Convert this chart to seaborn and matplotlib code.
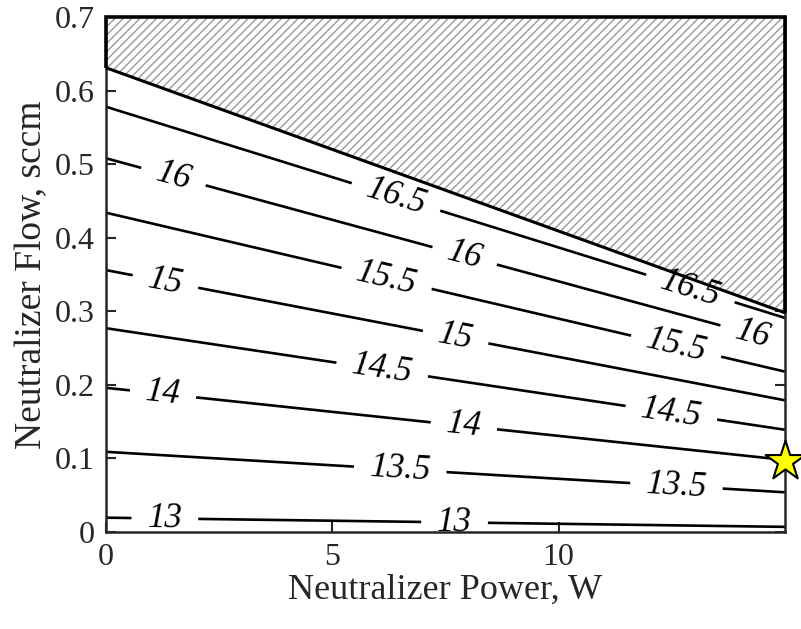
import numpy as np
import pandas as pd
import matplotlib
matplotlib.use('Agg')
import matplotlib.pyplot as plt
from matplotlib.patches import Polygon
import seaborn as sns

# Contour levels and where each one crosses the left (0 W) and right (15 W) edge
levels = [13, 13.5, 14, 14.5, 15, 15.5, 16, 16.5]
flow_at_0W = [0.0195, 0.109, 0.196, 0.277, 0.356, 0.434, 0.508, 0.578]
flow_at_15W = [0.007, 0.054, 0.098, 0.139, 0.179, 0.218, 0.257, 0.291]

# Limit line above which the region is hatched
limit_power = [0, 15]
limit_flow = [0.631, 0.298]

# Operating point marked by the star
star_power = [15]
star_flow = [0.097]

x_max, y_max = 15, 0.7

sns.set_style('ticks')
plt.rcParams['font.family'] = ['Liberation Serif', 'DejaVu Serif']
plt.rcParams['hatch.linewidth'] = 1.0
grey = '#262626'

# Build the field the contour routine needs from the edge crossings
power = np.linspace(0, x_max, 301)
flow = np.linspace(0, y_max, 351)
lv = np.array(levels, dtype=float)
y0 = np.array(flow_at_0W)
y1 = np.array(flow_at_15W)
Z = np.zeros((len(flow), len(power)))
for i, p in enumerate(power):
    yk = y0 + (y1 - y0) * p / x_max
    yk_ext = np.concatenate([[2 * yk[0] - yk[1]], yk, [2 * yk[-1] - yk[-2]]])
    lv_ext = np.concatenate([[2 * lv[0] - lv[1]], lv, [2 * lv[-1] - lv[-2]]])
    Z[:, i] = np.interp(flow, yk_ext, lv_ext)

fig = plt.figure(figsize=(8.01, 6.29), dpi=100)
ax = fig.add_axes([0.1323, 0.1542, 0.8477, 0.8188])

cs = ax.contour(power, flow, Z, levels=levels, colors='black', linewidths=1.9)
label_spots = [(1.5, 0.485), (6.4, 0.454), (7.9, 0.37), (12.9, 0.329), (14.25, 0.261),
               (1.3, 0.336), (6.2, 0.345), (7.7, 0.257), (12.6, 0.254),
               (6.1, 0.22), (12.5, 0.166),
               (1.25, 0.182), (7.9, 0.141),
               (6.5, 0.084), (12.6, 0.061),
               (1.3, 0.018), (7.7, 0.0136)]
labels = ax.clabel(cs, manual=label_spots, fmt=lambda v: f'{v:g}', inline=True,
                   inline_spacing=16, fontsize=25)
for t in labels:
    t.set_fontstyle('italic')
    t.set_color('black')

# Hatched infeasible region
ax.fill_between(limit_power, limit_flow, y_max, facecolor='white', edgecolor='#9a9a9a',
                hatch='////', linewidth=0, zorder=3)
outline = np.array([[limit_power[0], limit_flow[0]], [limit_power[0], y_max],
                    [limit_power[1], y_max], [limit_power[1], limit_flow[1]]])
ax.add_patch(Polygon(outline, closed=False, fill=False, edgecolor='black',
                     linewidth=2.6, zorder=4, clip_on=False))
limit_df = pd.DataFrame({'power': limit_power, 'flow': limit_flow})
sns.lineplot(data=limit_df, x='power', y='flow', color='black', linewidth=2.2,
             ax=ax, zorder=4)

star_df = pd.DataFrame({'power': star_power, 'flow': star_flow})
sns.scatterplot(data=star_df, x='power', y='flow', marker='*', s=900, color='#ffff00',
                edgecolor='black', linewidth=1.5, ax=ax, zorder=6, clip_on=False)

ax.set_xlim(0, x_max)
ax.set_ylim(0, y_max)
ax.set_xticks([0, 5, 10])
ax.set_yticks(np.arange(0, 0.71, 0.1))
ax.set_yticklabels(['0', '0.1', '0.2', '0.3', '0.4', '0.5', '0.6', '0.7'])
ax.set_xlabel('Neutralizer Power, W', fontsize=26, color=grey, labelpad=1)
ax.set_ylabel('Neutralizer Flow, sccm', fontsize=27, color=grey, labelpad=4)
ax.tick_params(direction='in', top=True, right=True, length=7, width=1.5,
               colors=grey, labelsize=23, pad=8)
for s in ax.spines.values():
    s.set_linewidth(1.8)
    s.set_color(grey)

fig.savefig('out.png', dpi=100)
